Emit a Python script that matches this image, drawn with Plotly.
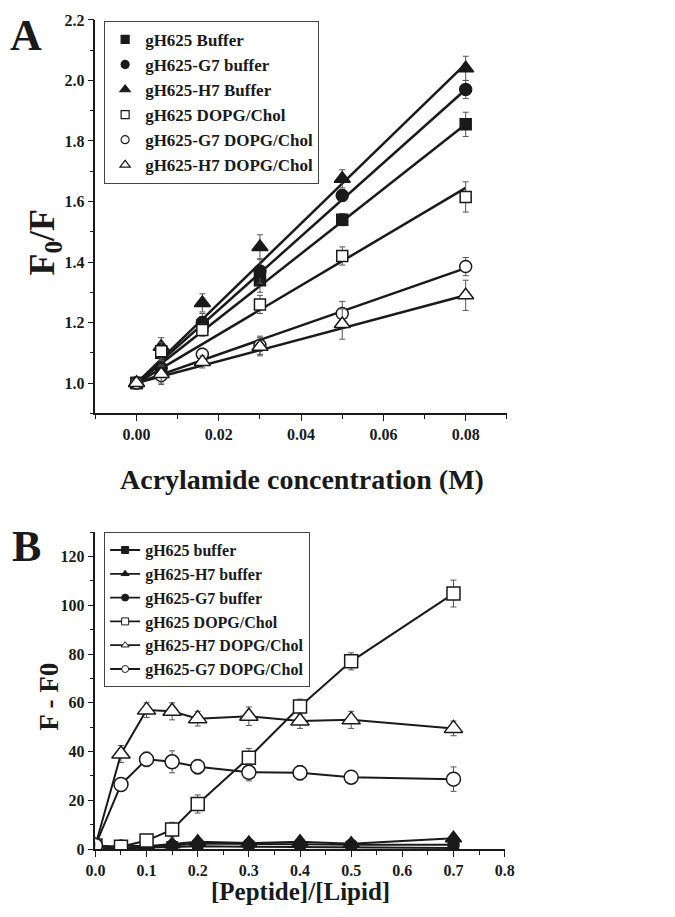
import plotly.graph_objects as go

# Panel A: Stern-Volmer quenching
acryl = [0.0, 0.006, 0.016, 0.03, 0.05, 0.08]
names_a = ['gH625 Buffer', 'gH625-G7 buffer', 'gH625-H7 Buffer',
           'gH625 DOPG/Chol', 'gH625-G7 DOPG/Chol', 'gH625-H7 DOPG/Chol']
f0f_gh625_buf = [1.0, 1.10, 1.19, 1.34, 1.54, 1.855]
f0f_g7_buf = [1.0, 1.05, 1.20, 1.37, 1.62, 1.97]
f0f_h7_buf = [1.0, 1.12, 1.265, 1.45, 1.675, 2.04]
f0f_gh625_dopg = [1.0, 1.105, 1.175, 1.26, 1.42, 1.615]
f0f_g7_dopg = [1.0, 1.025, 1.095, 1.125, 1.23, 1.385]
f0f_h7_dopg = [1.0, 1.03, 1.07, 1.12, 1.195, 1.29]
err_gh625_buf = [0.01, 0.03, 0.03, 0.04, 0.02, 0.04]
err_g7_buf = [0.01, 0.03, 0.03, 0.04, 0.02, 0.03]
err_h7_buf = [0.01, 0.03, 0.03, 0.04, 0.03, 0.04]
err_gh625_dopg = [0.01, 0.03, 0.02, 0.03, 0.03, 0.05]
err_g7_dopg = [0.01, 0.03, 0.02, 0.03, 0.04, 0.03]
err_h7_dopg = [0.01, 0.03, 0.02, 0.03, 0.05, 0.05]
# fitted lines: value at 0 and at 0.08 M
fit_x = [0.0, 0.08]
fit_ends = [1.855, 1.97, 2.055, 1.645, 1.38, 1.29]

# Panel B: fluorescence change vs P/L ratio
ratio = [0.0, 0.05, 0.1, 0.15, 0.2, 0.3, 0.4, 0.5, 0.7]
names_b = ['gH625 buffer', 'gH625-H7 buffer', 'gH625-G7 buffer',
           'gH625 DOPG/Chol', 'gH625-H7 DOPG/Chol', 'gH625-G7 DOPG/Chol']
df_gh625_buf = [0, 0.3, 0.8, 1.0, 1.2, 1.0, 0.9, 1.0, 0.5]
df_h7_buf = [0, 0.4, 1.2, 2.0, 3.0, 2.5, 3.0, 2.2, 4.5]
df_g7_buf = [0, 1.5, 1.2, 1.5, 2.3, 2.0, 2.0, 1.8, 1.8]
df_gh625_dopg = [1.5, 1.0, 3.5, 8.0, 18.5, 37.5, 58.5, 77.0, 104.8]
df_h7_dopg = [1.5, 39.0, 57.0, 56.5, 53.5, 54.5, 52.5, 53.0, 49.5]
df_g7_dopg = [1.5, 26.5, 36.8, 35.8, 33.8, 31.5, 31.3, 29.5, 28.7]
dferr_buf = [0.3, 0.5, 0.6, 0.8, 1.0, 0.8, 0.8, 0.8, 1.0]
dferr_gh625_dopg = [0.5, 1.0, 2.5, 3.0, 3.7, 3.8, 3.0, 3.5, 5.5]
dferr_h7_dopg = [0.5, 3.5, 3.0, 3.5, 3.0, 3.8, 3.0, 3.5, 3.0]
dferr_g7_dopg = [0.5, 1.5, 3.0, 4.5, 3.0, 3.5, 3.0, 2.0, 5.0]

FONT = 'Liberation Serif'
BLACK = '#1a1a1a'

fig = go.Figure()

series_a = [
    (f0f_gh625_buf, err_gh625_buf, 'square', BLACK, 11),
    (f0f_g7_buf, err_g7_buf, 'circle', BLACK, 12),
    (f0f_h7_buf, err_h7_buf, 'triangle-up', BLACK, 14),
    (f0f_gh625_dopg, err_gh625_dopg, 'square', 'white', 11),
    (f0f_g7_dopg, err_g7_dopg, 'circle', 'white', 12),
    (f0f_h7_dopg, err_h7_dopg, 'triangle-up', 'white', 14),
]

for end in fit_ends:
    fig.add_trace(go.Scatter(
        x=fit_x, y=[1.0, end], mode='lines', showlegend=False,
        line=dict(color=BLACK, width=2.5), hoverinfo='skip',
        xaxis='x', yaxis='y'))

for name, (vals, errs, sym, fill, size) in zip(names_a, series_a):
    fig.add_trace(go.Scatter(
        x=acryl, y=vals, mode='markers', name=name, showlegend=False,
        marker=dict(symbol=sym, size=size, color=fill,
                    line=dict(color=BLACK, width=1.5)),
        error_y=dict(type='data', array=errs, color='#555555',
                     thickness=1, width=3),
        xaxis='x', yaxis='y'))
    # legend entry with a smaller symbol, as in the original figure
    fig.add_trace(go.Scatter(
        x=[None], y=[None], mode='markers', name=name, legend='legend',
        marker=dict(symbol=sym, size=8 if sym != 'triangle-up' else 9,
                    color=fill, line=dict(color=BLACK, width=1.2)),
        xaxis='x', yaxis='y'))

series_b = [
    (df_gh625_buf, dferr_buf, 'square', BLACK, 10),
    (df_h7_buf, dferr_buf, 'triangle-up', BLACK, 14),
    (df_g7_buf, dferr_buf, 'circle', BLACK, 11),
    (df_gh625_dopg, dferr_gh625_dopg, 'square', 'white', 13),
    (df_h7_dopg, dferr_h7_dopg, 'triangle-up', 'white', 16),
    (df_g7_dopg, dferr_g7_dopg, 'circle', 'white', 14),
]

for name, (vals, errs, sym, fill, size) in zip(names_b, series_b):
    fig.add_trace(go.Scatter(
        x=ratio, y=vals, mode='lines+markers', name=name, showlegend=False,
        line=dict(color=BLACK, width=2),
        marker=dict(symbol=sym, size=size, color=fill,
                    line=dict(color=BLACK, width=1.5)),
        error_y=dict(type='data', array=errs, color='#555555',
                     thickness=1, width=3),
        xaxis='x2', yaxis='y2'))
    fig.add_trace(go.Scatter(
        x=[None], y=[None], mode='lines+markers', name=name,
        legend='legend2', line=dict(color=BLACK, width=1.8),
        marker=dict(symbol=sym, size=7, color=fill,
                    line=dict(color=BLACK, width=1)),
        xaxis='x2', yaxis='y2'))

W, H = 675, 917


def px(x):
    return x / W


def py(y):
    return 1 - y / H


axis_common = dict(
    showline=True, linecolor=BLACK, linewidth=1.5, mirror=False,
    ticks='outside', ticklen=6, tickwidth=1.2, tickcolor=BLACK,
    showgrid=False, zeroline=False,
    tickfont=dict(family=FONT, size=16, color=BLACK, weight='bold'),
)

legend_common = dict(
    bgcolor='white', bordercolor='#444444', borderwidth=1,
    xanchor='left', yanchor='top', tracegroupgap=0,
)

fig.update_layout(
    width=W, height=H,
    margin=dict(l=0, r=0, t=0, b=0),
    plot_bgcolor='white', paper_bgcolor='white',
    font=dict(family=FONT, color=BLACK),
    xaxis=dict(axis_common, domain=[px(88), px(512)], range=[-0.01, 0.09],
               tick0=0, dtick=0.02, tickformat='.2f', anchor='y',
               minor=dict(ticks='outside', ticklen=4, dtick=0.01,
                          tickcolor=BLACK)),
    yaxis=dict(axis_common, domain=[py(413), py(12)], range=[0.9, 2.2005],
               tick0=1.0, dtick=0.2, tickformat='.1f', anchor='x',
               minor=dict(ticks='outside', ticklen=4, dtick=0.1,
                          tickcolor=BLACK)),
    xaxis2=dict(axis_common, domain=[px(88), px(510)], range=[0, 0.8005],
                tick0=0, dtick=0.1, tickformat='.1f', anchor='y2',
                minor=dict(ticks='outside', ticklen=4, dtick=0.05,
                           tickcolor=BLACK)),
    yaxis2=dict(axis_common, domain=[py(857), py(534)], range=[0, 130],
                tick0=0, dtick=20, anchor='x2',
                minor=dict(ticks='outside', ticklen=4, dtick=10,
                           tickcolor=BLACK)),
    legend=dict(legend_common, x=px(97), y=py(13),
                font=dict(family=FONT, size=17, color=BLACK, weight='bold')),
    legend2=dict(legend_common, x=px(97), y=py(534),
                 font=dict(family=FONT, size=16, color=BLACK,
                           weight='bold')),
)

annotations = [
    dict(text='A', x=px(17), y=py(28), size=44, angle=0),
    dict(text='B', x=px(17), y=py(549), size=44, angle=0),
    dict(text='Acrylamide concentration (M)', x=px(301), y=py(480),
         size=28, angle=0),
    dict(text='F<sub>0</sub>/F', x=px(36), y=py(238), size=36, angle=-90),
    dict(text='[Peptide]/[Lipid]', x=px(299), y=py(900), size=25, angle=0),
    dict(text='F - F0', x=px(40), y=py(702), size=27, angle=-90),
]
for a in annotations:
    fig.add_annotation(
        text=a['text'], x=a['x'], y=a['y'], xref='paper', yref='paper',
        showarrow=False, textangle=a['angle'], xanchor='center',
        yanchor='middle',
        font=dict(family=FONT, size=a['size'], color=BLACK, weight='bold'))

page_fix = ("document.documentElement.style.margin='0';"
            "document.documentElement.style.overflow='hidden';"
            "document.body.style.margin='0';"
            "document.body.style.overflow='hidden';")
fig.write_html('out.html', config={'displayModeBar': False},
               post_script=page_fix)
